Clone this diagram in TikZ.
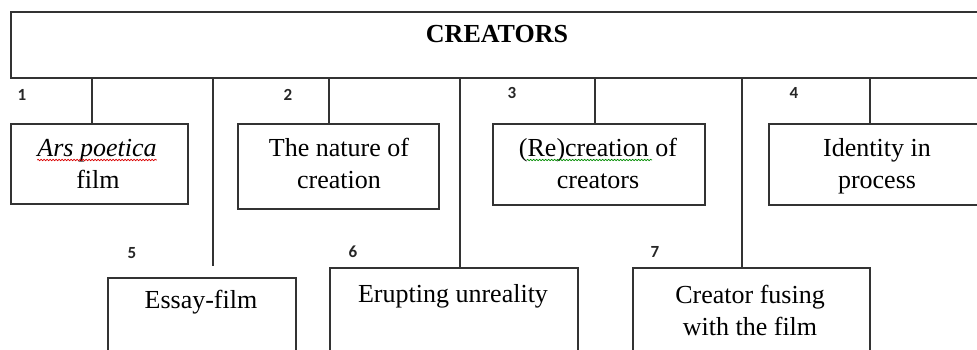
\documentclass[tikz,border=0pt]{standalone}
\usepackage{fontspec}
\setmainfont{Liberation Serif}
\newfontfamily\numfont{Carlito}
\usetikzlibrary{decorations.pathmorphing}
\begin{document}
\begin{tikzpicture}[x=1pt,y=-1pt,
  frame/.style={draw=black!80, line width=1.8pt, inner sep=0pt, anchor=north west},
  txt/.style={anchor=base, inner sep=0pt, font=\fontsize{26}{31}\selectfont},
  num/.style={inner sep=0pt, font=\numfont\bfseries\fontsize{17}{19}\selectfont, text=black!85},
  link/.style={draw=black!80, line width=1.8pt},
  squig/.style={decorate, decoration={snake, amplitude=0.7pt, segment length=3pt}, line width=0.7pt}]
\useasboundingbox (0,0) rectangle (977,350);
\clip (0,0) rectangle (977,350);

% heading bar
\node[frame, minimum width=1000pt, minimum height=66pt] (top) at (10,11) {};
\node[txt, font=\bfseries\fontsize{26}{31}\selectfont] (title) at (497,43) {CREATORS};

% first row of boxes
\node[frame, minimum width=177pt, minimum height=80pt] (b1) at (10,123) {};
\node[frame, minimum width=201pt, minimum height=85pt] (b2) at (237,123) {};
\node[frame, minimum width=212pt, minimum height=81pt] (b3) at (492,123) {};
\node[frame, minimum width=218pt, minimum height=81pt] (b4) at (768,123) {};

% second row of boxes (run past the lower edge)
\node[frame, minimum width=188pt, minimum height=120pt] (b5) at (107,277) {};
\node[frame, minimum width=248pt, minimum height=120pt] (b6) at (329,267) {};
\node[frame, minimum width=237pt, minimum height=120pt] (b7) at (632,267) {};

% drop lines
\coordinate (x1) at (92,0);
\coordinate (x2) at (329,0);
\coordinate (x3) at (595,0);
\coordinate (x4) at (870,0);
\coordinate (x5) at (213,0);
\coordinate (x6) at (460,0);
\coordinate (x7) at (742,0);
\coordinate (e5) at (213,266);
\draw[link] (top.south -| x1) -- (b1.north -| x1);
\draw[link] (top.south -| x2) -- (b2.north -| x2);
\draw[link] (top.south -| x3) -- (b3.north -| x3);
\draw[link] (top.south -| x4) -- (b4.north -| x4);
\draw[link] (top.south -| x5) -- (e5);
\draw[link] (top.south -| x6) -- (b6.north -| x6);
\draw[link] (top.south -| x7) -- (b7.north -| x7);

% numbers
\node[num] (n1) at (22,95) {1};
\node[num] (n2) at (288,95) {2};
\node[num] (n3) at (512,93) {3};
\node[num] (n4) at (794,93) {4};
\node[num] (n5) at (132,253) {5};
\node[num] (n6) at (353,252) {6};
\node[num] (n7) at (655,252) {7};

% box texts
\node[txt] (t1a) at (97,157) {\itshape Ars poetica};
\node[txt] (t1b) at (98,188) {film};
\node[txt] (t2a) at (339,157) {The nature of};
\node[txt] (t2b) at (339,188) {creation};
\node[txt] (t3a) at (598,157) {(Re)creation of};
\node[txt] (t3b) at (598,188) {creators};
\node[txt] (t4a) at (877,157) {Identity in};
\node[txt] (t4b) at (877,188) {process};
\node[txt] (t5) at (201,308) {Essay-film};
\node[txt] (t6) at (453,302) {Erupting unreality};
\node[txt] (t7a) at (750,303) {Creator fusing};
\node[txt] (t7b) at (750,335) {with the film};

% spelling marks
\draw[squig, draw=red!85!black] ([yshift=-3pt]t1a.base west) -- ([yshift=-3pt]t1a.base east);
\draw[squig, draw=green!55!black] ([shift={(8pt,-3pt)}]t3a.base west) -- ([shift={(-25pt,-3pt)}]t3a.base east);
\end{tikzpicture}
\end{document}
